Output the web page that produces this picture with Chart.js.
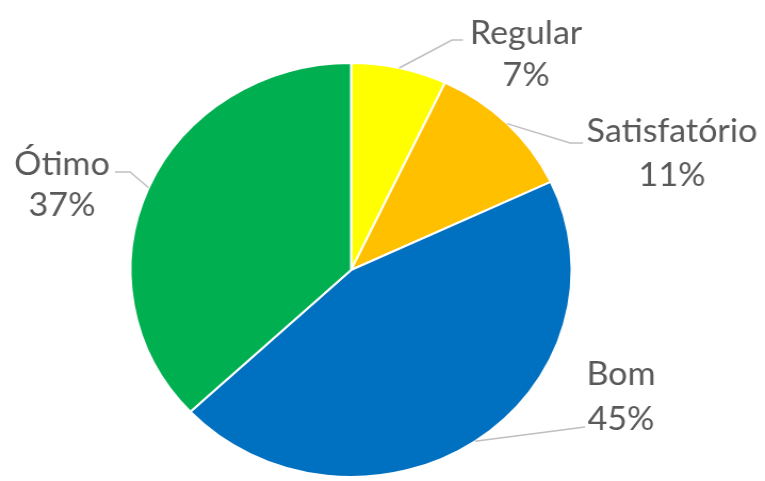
<!DOCTYPE html>
<html>
<head>
<meta charset="utf-8">
<script src="https://cdn.jsdelivr.net/npm/chart.js@4.4.1/dist/chart.umd.min.js"></script>
<style>
  html, body { margin: 0; padding: 0; background: #fff; overflow: hidden; }
  #wrap {
    position: absolute; left: 0; top: 0;
    width: 718px; height: 481px;
    transform: scaleX(1.06546); transform-origin: 0 0;
  }
</style>
</head>
<body>
<div id="wrap"><canvas id="pie"></canvas></div>
<script>
// Data
const categories = ["Regular", "Satisfatório", "Bom", "Ótimo"];
const shares = [7, 11, 45, 37];
const sliceColors = ["#FFFF00", "#FFC000", "#0070C0", "#00B050"];

// the reference pie is a bit wider than tall, the wrapper is stretched by this
const STRETCH = 765 / 718;

// where each label sits (picture pixels)
const labelLayout = [
  { tx: 526, y1: 34, y2: 76, elbow: [452, 40], end: [463, 40] },
  { tx: 672, y1: 132, y2: 176, elbow: [570, 143], end: [583, 143] },
  { tx: 621, y1: 375, y2: 420, elbow: [585, 427], end: [585, 427] },
  { tx: 62, y1: 165, y2: 206, elbow: [130, 172], end: [115, 172] },
];

// Custom plugin for the outside labels with leader lines
const outsideLabels = {
  id: "outsideLabels",
  afterDatasetsDraw: (chart) => {
    const ctx = chart.ctx;
    const arcs = chart.getDatasetMeta(0).data;
    ctx.save();
    arcs.forEach((arc, i) => {
      const lay = labelLayout[i];
      const mid = (arc.startAngle + arc.endAngle) / 2;
      const px = arc.x + Math.cos(mid) * arc.outerRadius;
      const py = arc.y + Math.sin(mid) * arc.outerRadius;

      ctx.beginPath();
      ctx.moveTo(px, py);
      ctx.lineTo(lay.elbow[0] / STRETCH, lay.elbow[1]);
      ctx.lineTo(lay.end[0] / STRETCH, lay.end[1]);
      ctx.lineWidth = 1.5;
      ctx.strokeStyle = "#bfbfbf";
      ctx.stroke();

      ctx.fillStyle = "#595959";
      ctx.font = "32px Lato, 'Open Sans', sans-serif";
      ctx.textAlign = "center";
      ctx.textBaseline = "middle";
      ctx.fillText(categories[i], lay.tx / STRETCH, lay.y1);
      ctx.fillText(shares[i] + "%", lay.tx / STRETCH, lay.y2);
    });
    ctx.restore();
  },
};

const config = {
  type: "pie",
  data: {
    labels: categories,
    datasets: [
      {
        data: shares,
        backgroundColor: sliceColors,
        borderColor: "#ffffff",
        borderWidth: 2,
      },
    ],
  },
  options: {
    responsive: true,
    maintainAspectRatio: false,
    animation: false,
    layout: {
      padding: { left: 100, right: 159, top: 62, bottom: 3 },
    },
    plugins: {
      legend: { display: false },
      tooltip: { enabled: false },
    },
  },
  plugins: [outsideLabels],
};

const ctx = document.getElementById("pie").getContext("2d");
const myChart = new Chart(ctx, config);
</script>
</body>
</html>
